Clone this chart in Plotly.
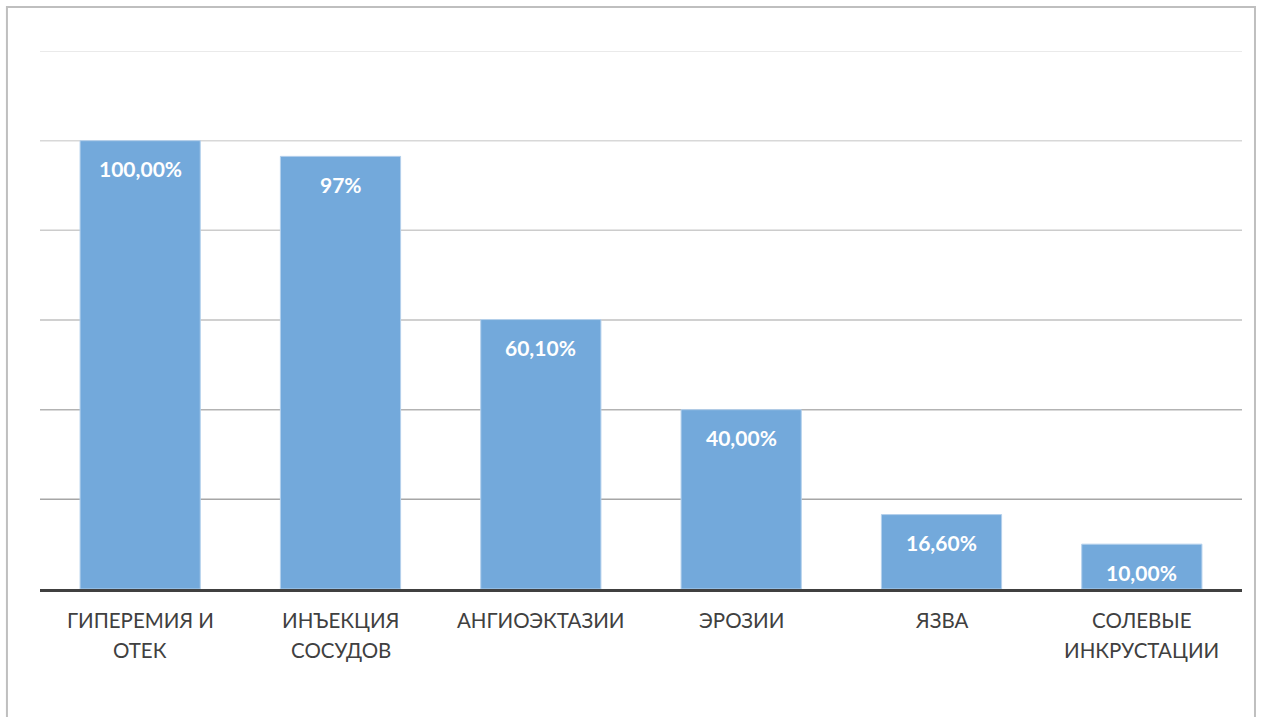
import plotly.graph_objects as go

categories = ["ГИПЕРЕМИЯ И\nОТЕК", "ИНЪЕКЦИЯ\nСОСУДОВ", "АНГИОЭКТАЗИИ", "ЭРОЗИИ", "ЯЗВА", "СОЛЕВЫЕ\nИНКРУСТАЦИИ"]
values = [1.00, 0.965, 0.601, 0.40, 0.166, 0.10]
value_labels = ["100,00%", "97%", "60,10%", "40,00%", "16,60%", "10,00%"]
grid_values = [0.2, 0.4, 0.6, 0.8, 1.0, 1.2]
grid_colors = ["#a6a6a6", "#b3b3b3", "#c0c0c0", "#cccccc", "#d8d8d8", "#e3e3e3"]

FONT = "Lato"
x_idx = list(range(len(categories)))

fig = go.Figure()
fig.add_trace(go.Bar(
    x=x_idx, y=values,
    marker=dict(color="#73a9db", line=dict(color="#b4d0ec", width=1)),
    hoverinfo="skip",
))

shapes = []
for gv, gc in zip(grid_values, grid_colors):
    shapes.append(dict(type="line", xref="paper", yref="y", x0=0, x1=1, y0=gv, y1=gv,
                       line=dict(color=gc, width=1.5), layer="below"))
# outer chart border
shapes.append(dict(type="rect", xref="paper", yref="paper", x0=-0.0275, x1=1.0108, y0=-0.4, y1=1.0818,
                   line=dict(color="#bfbfbf", width=2), fillcolor="rgba(0,0,0,0)"))

annotations = []
for i, (v, t) in enumerate(zip(values, value_labels)):
    annotations.append(dict(x=i, y=v, xref="x", yref="y", text="<b>" + t + "</b>", showarrow=False,
                            yanchor="middle", yshift=-28,
                            font=dict(family=FONT, size=21, color="white")))
for i, c in enumerate(categories):
    for j, line in enumerate(c.split("\n")):
        annotations.append(dict(x=i, y=0, xref="x", yref="paper", text=line, showarrow=False,
                                yanchor="middle", yshift=-31 - 30 * j,
                                font=dict(family=FONT, size=20.5, color="#404040")))

fig.update_layout(
    width=1261, height=717,
    margin=dict(l=40, r=19, t=51, b=128),
    paper_bgcolor="white", plot_bgcolor="white",
    showlegend=False,
    bargap=0.4,
    shapes=shapes,
    annotations=annotations,
    xaxis=dict(range=[-0.5, len(categories) - 0.5], showticklabels=False, ticks="",
               showgrid=False, zeroline=False, showline=True, linecolor="#404040", linewidth=3),
    yaxis=dict(range=[0, 1.2], showticklabels=False, showgrid=False, zeroline=False, ticks=""),
)

fig.write_html("out.html")
